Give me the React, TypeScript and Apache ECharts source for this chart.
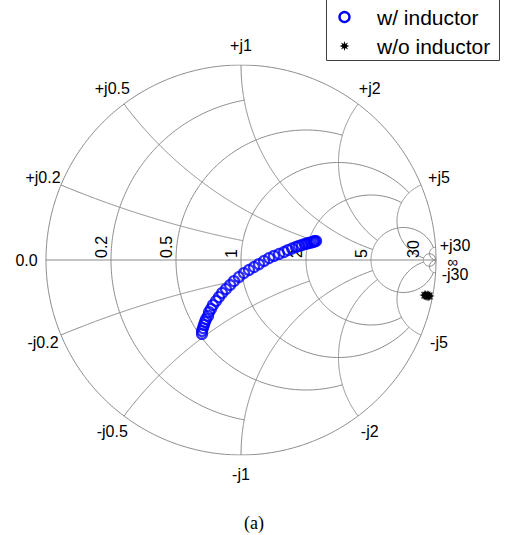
import React, { useEffect, useRef } from "react";
import * as echarts from "echarts";

// Smith chart grid values (MATLAB smithplot default) and their extents
const GRID_VALUES = [30, 5, 2, 1, 0.5, 0.2];
const GRID_LIMITS = [Infinity, 30, 5, 5, 2, 1];
const R_LABELS = ["30", "5", "2", "1", "0.5", "0.2"];
const X_LABELS_POS = ["+j30", "+j5", "+j2", "+j1", "+j0.5", "+j0.2"];
const X_LABELS_NEG = ["-j30", "-j5", "-j2", "-j1", "-j0.5", "-j0.2"];

const withInductorRe = [
  -0.2, -0.2, -0.195, -0.19, -0.185, -0.179, -0.169, -0.164, -0.154, -0.144,
  -0.128, -0.113, -0.097, -0.077, -0.056, -0.036, -0.01, 0.015, 0.041, 0.067,
  0.092, 0.118, 0.144, 0.169, 0.195, 0.221, 0.241, 0.262, 0.282, 0.297,
  0.313, 0.328, 0.338, 0.349, 0.359, 0.369, 0.374, 0.379, 0.385,
];
const withInductorIm = [
  -0.379, -0.364, -0.349, -0.333, -0.318, -0.303, -0.287, -0.267, -0.251, -0.231,
  -0.21, -0.19, -0.169, -0.149, -0.128, -0.108, -0.087, -0.067, -0.051, -0.036,
  -0.021, -0.005, 0.01, 0.021, 0.031, 0.041, 0.051, 0.059, 0.067, 0.072,
  0.077, 0.082, 0.085, 0.087, 0.09, 0.092, 0.095, 0.097, 0.097,
];
const withoutInductorRe = [0.94, 0.944, 0.949, 0.954, 0.959, 0.963, 0.967, 0.962, 0.955, 0.947];
const withoutInductorIm = [-0.18, -0.182, -0.184, -0.186, -0.187, -0.186, -0.184, -0.181, -0.179, -0.178];

const SERIES_NAMES = ["w/ inductor", "w/o inductor"];
const SERIES_COLORS = ["#0000ff", "#000000"];

function gamma(r: number, x: number): [number, number] {
  const den = (r + 1) * (r + 1) + x * x;
  return [(r * r + x * x - 1) / den, (2 * x) / den];
}

function buildGrid(): [number, number][][] {
  const arcs: [number, number][][] = [];
  const N = 260;
  const outer: [number, number][] = [];
  for (let i = 0; i <= N * 2; i++) {
    const a = (i / (N * 2)) * Math.PI * 2;
    outer.push([Math.cos(a), Math.sin(a)]);
  }
  arcs.push(outer);
  arcs.push([[-1, 0], [1, 0]]);
  GRID_VALUES.forEach((v, k) => {
    const L = GRID_LIMITS[k];
    const pm = L === Infinity ? Math.PI / 2 : Math.atan(L);
    const rc: [number, number][] = [];
    for (let i = 0; i <= N; i++) {
      const phi = -pm + (2 * pm * i) / N;
      rc.push(gamma(v, Math.tan(phi)));
    }
    arcs.push(rc);
    [1, -1].forEach((s) => {
      const xc: [number, number][] = [];
      for (let i = 0; i <= N; i++) {
        const psi = (pm * i) / N;
        xc.push(gamma(Math.tan(psi), s * v));
      }
      arcs.push(xc);
    });
  });
  return arcs;
}

function starPoints(cx: number, cy: number, ro: number, ri: number): number[][] {
  const pts: number[][] = [];
  const n = 8;
  for (let i = 0; i < n * 2; i++) {
    const a = (i * Math.PI) / n - Math.PI / 2;
    const rad = i % 2 === 0 ? ro : ri;
    pts.push([cx + rad * Math.cos(a), cy + rad * Math.sin(a)]);
  }
  return pts;
}

function asteriskPath(): string {
  const pts = starPoints(50, 50, 50, 22);
  return "path://" + pts.map((p, i) => `${i === 0 ? "M" : "L"}${p[0].toFixed(2)} ${p[1].toFixed(2)}`).join(" ") + " Z";
}

type Lbl = { re: number; im: number; text: string; rot: boolean };

function buildLabels(): Lbl[] {
  const out: Lbl[] = [];
  const Rl = 1.1;
  out.push({ re: -Rl, im: 0, text: "0.0", rot: false });
  out.push({ re: 1.085, im: -0.01, text: "∞", rot: false });
  GRID_VALUES.forEach((v, k) => {
    const th = Math.PI - 2 * Math.atan(v);
    out.push({ re: Rl * Math.cos(th), im: Rl * Math.sin(th), text: X_LABELS_POS[k], rot: false });
    out.push({ re: Rl * Math.cos(th), im: -Rl * Math.sin(th), text: X_LABELS_NEG[k], rot: false });
    out.push({ re: (v - 1) / (v + 1), im: 0, text: R_LABELS[k], rot: true });
  });
  return out;
}

export default function App() {
  const ref = useRef<HTMLDivElement>(null);
  useEffect(() => {
    if (!ref.current) return;
    const chart = echarts.init(ref.current, undefined, { renderer: "svg" });
    const labels = buildLabels();
    const font = '"Liberation Sans", Arial, sans-serif';
    const legendFont = { fontFamily: font, fontSize: 21, fill: "#000", verticalAlign: "middle", align: "left" };
    chart.setOption({
      animation: false,
      backgroundColor: "#ffffff",
      title: {
        text: "(a)",
        left: "center",
        top: 509,
        textStyle: { fontFamily: '"Liberation Serif", "Times New Roman", serif', fontSize: 18, fontWeight: "normal", color: "#000" },
      },
      graphic: [
        {
          type: "rect",
          silent: true,
          shape: { x: 326.5, y: -1.5, width: 173, height: 62 },
          style: { fill: "#fff", stroke: "#404040", lineWidth: 1 },
          z: 10,
        },
        {
          type: "circle",
          silent: true,
          shape: { cx: 344.5, cy: 17, r: 5 },
          style: { fill: "none", stroke: SERIES_COLORS[0], lineWidth: 2.4 },
          z: 11,
        },
        {
          type: "polygon",
          silent: true,
          shape: { points: starPoints(344.5, 46, 5, 2.3) },
          style: { fill: SERIES_COLORS[1] },
          z: 11,
        },
        { type: "text", silent: true, x: 377, y: 17, style: { text: SERIES_NAMES[0], ...legendFont }, z: 11 },
        { type: "text", silent: true, x: 377, y: 46, style: { text: SERIES_NAMES[1], ...legendFont }, z: 11 },
      ],
      grid: { left: 46, top: 65, width: 390, height: 390 },
      xAxis: { type: "value", min: -1, max: 1, show: false },
      yAxis: { type: "value", min: -1, max: 1, show: false },
      series: [
        {
          type: "lines",
          coordinateSystem: "cartesian2d",
          polyline: true,
          silent: true,
          z: 1,
          lineStyle: { color: "#8a8a8a", width: 1, opacity: 1 },
          data: buildGrid().map((c) => ({ coords: c })),
        },
        {
          type: "custom",
          silent: true,
          z: 2,
          data: labels.map((l) => [l.re, l.im]),
          renderItem: (params: any, api: any) => {
            const l = labels[params.dataIndex];
            const p = api.coord([l.re, l.im]);
            if (l.rot) {
              return {
                type: "text",
                x: p[0] - 2,
                y: p[1] - 2,
                rotation: Math.PI / 2,
                style: { text: l.text, fill: "#000", fontSize: 16, fontFamily: font, align: "left", verticalAlign: "bottom" },
              };
            }
            return {
              type: "text",
              x: p[0],
              y: p[1],
              style: { text: l.text, fill: "#000", fontSize: l.text === "∞" ? 15 : 16, fontFamily: font, align: "center", verticalAlign: "middle" },
            };
          },
        },
        {
          name: SERIES_NAMES[0],
          type: "scatter",
          z: 3,
          symbol: "circle",
          symbolSize: 10,
          itemStyle: { color: "rgba(0,0,0,0)", borderColor: SERIES_COLORS[0], borderWidth: 2.2 },
          data: withInductorRe.map((v, i) => [v, withInductorIm[i]]),
        },
        {
          name: SERIES_NAMES[1],
          type: "scatter",
          z: 3,
          symbol: asteriskPath(),
          symbolKeepAspect: true,
          symbolSize: 10,
          itemStyle: { color: SERIES_COLORS[1] },
          data: withoutInductorRe.map((v, i) => [v, withoutInductorIm[i]]),
        },
      ],
    });
    return () => chart.dispose();
  }, []);
  return <div ref={ref} style={{ position: "absolute", left: 0, top: 0, width: 508, height: 535 }} />;
}
